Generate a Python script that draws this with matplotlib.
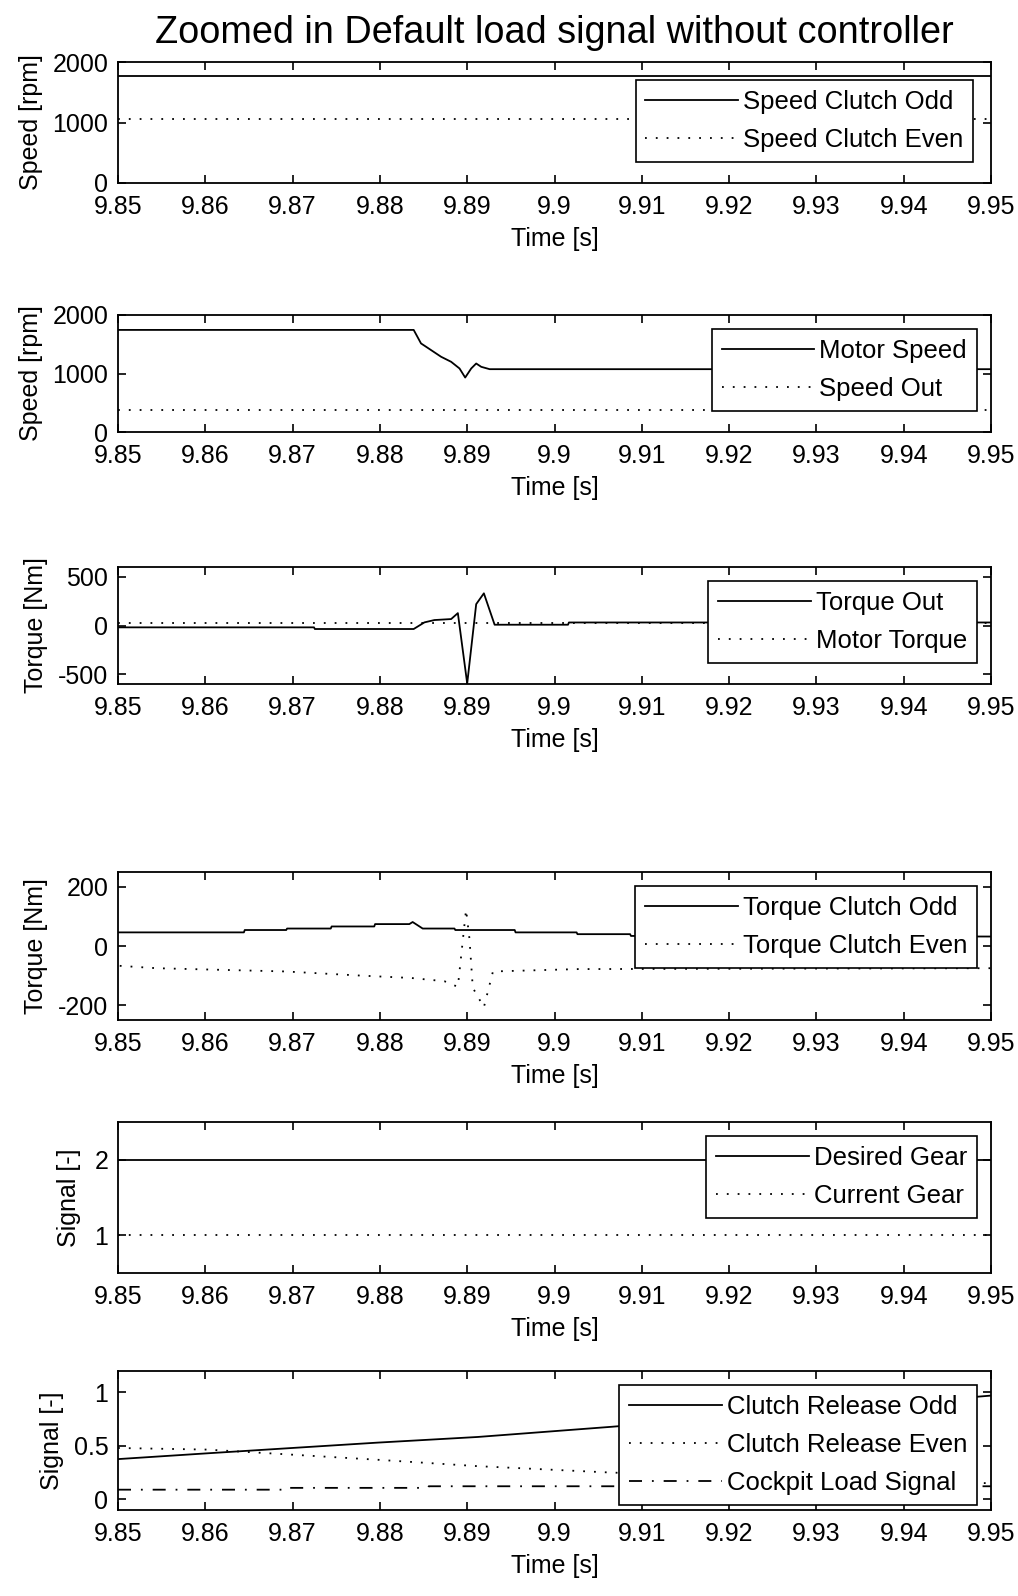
import matplotlib.pyplot as plt
import numpy as np

plt.rcParams['font.family'] = ['Liberation Sans', 'DejaVu Sans']
plt.rcParams['font.size'] = 18
plt.rcParams['axes.unicode_minus'] = False
plt.rcParams['axes.linewidth'] = 1.3
plt.rcParams['xtick.direction'] = 'in'
plt.rcParams['ytick.direction'] = 'in'
plt.rcParams['xtick.top'] = True
plt.rcParams['ytick.right'] = True
plt.rcParams['xtick.major.size'] = 6
plt.rcParams['ytick.major.size'] = 6
plt.rcParams['xtick.major.width'] = 1.2
plt.rcParams['ytick.major.width'] = 1.2

# ---- data ----
time_ticks = [9.85, 9.86, 9.87, 9.88, 9.89, 9.9, 9.91, 9.92, 9.93, 9.94, 9.95]
t_ends = [9.85, 9.95]

speed_odd = [1763, 1763]
speed_even = [1050, 1050]

motor_t = [9.85, 9.88387, 9.88471, 9.88529, 9.88701, 9.88816, 9.88912, 9.88977,
           9.89046, 9.89103, 9.89161, 9.89257, 9.95]
motor_speed = [1745, 1745, 1514, 1457, 1286, 1200, 1086, 931, 1086, 1171, 1114, 1074, 1074]
speed_out = [375, 375]

tq_out_t = [9.85, 9.87245, 9.87255, 9.88387, 9.8851, 9.88625, 9.88816, 9.88893, 9.89,
            9.89103, 9.89191, 9.89314, 9.90155, 9.90165, 9.95]
tq_out = [-19, -19, -36, -36, 32, 56, 66, 127, -595, 219, 330, 8, 8, 31, 31]
motor_torque = [25, 25]

tq_odd_t = [9.85, 9.86442, 9.86452, 9.86927, 9.86937, 9.87437, 9.87447, 9.87935, 9.87945,
            9.88337, 9.88375, 9.8849, 9.88854, 9.88864, 9.89544, 9.89554, 9.90253,
            9.90263, 9.90866, 9.90876, 9.95]
tq_odd = [46, 46, 54, 54, 59, 59, 66, 66, 74, 74, 81, 59, 59, 54, 54, 46, 46, 40, 40, 34, 32]
tq_even_t = [9.8502, 9.8544, 9.86917, 9.87782, 9.88356, 9.88739, 9.88893, 9.88987,
             9.89026, 9.89064, 9.89191, 9.89295, 9.90272, 9.95]
tq_even = [-67, -75, -86, -100, -108, -119, -138, 123, 24, -141, -207, -86, -78, -75]

desired_gear = [2, 2]
current_gear = [1, 1]

rel_t = [9.85, 9.8602, 9.8797, 9.8912, 9.9065, 9.95]
rel_odd = [0.376, 0.43, 0.53, 0.583, 0.678, 0.97]
rel_even = [0.48, 0.465, 0.37, 0.31, 0.25, 0.15]
load_t = [9.85, 9.869, 9.8691, 9.8855, 9.8856, 9.95]
load_sig = [0.09, 0.09, 0.107, 0.107, 0.122, 0.122]

W, H = 1018, 1596
fig = plt.figure(figsize=(W / 100, H / 100), dpi=100)

# pixel boxes (top, bottom) of each panel
boxes = [(62, 183), (315, 432), (567, 684), (872, 1020), (1122, 1273), (1371, 1510)]
left, right = 118, 991

dot = (0, (1, 5))
dashdot = (0, (7.2, 5.5, 1, 5.5))


def make_ax(top, bottom):
    ax = fig.add_axes([left / W, 1 - bottom / H, (right - left) / W, (bottom - top) / H])
    ax.set_xlim(9.85, 9.95)
    ax.set_xticks(time_ticks)
    ax.set_xticklabels(['%g' % v for v in time_ticks])
    ax.set_xlabel('Time [s]', labelpad=6)
    ax.tick_params(axis='x', pad=8.5)
    ax.tick_params(axis='y', pad=7)
    return ax


def legend(ax, handles, inset=0.55):
    ax.legend(handles=handles, loc='upper right', fancybox=False, framealpha=1,
              edgecolor='black', handlelength=3.6, handletextpad=0.2,
              labelspacing=0.55, borderpad=0.38, borderaxespad=inset,
              fontsize=18.5).get_frame().set_linewidth(1.2)


# 1
ax = make_ax(*boxes[0])
a, = ax.plot(t_ends, speed_odd, 'k-', lw=1.3, label='Speed Clutch Odd')
b, = ax.plot(t_ends, speed_even, color='k', ls=dot, lw=1.3, label='Speed Clutch Even')
ax.set_ylim(0, 2000)
ax.set_yticks([0, 1000, 2000])
ax.set_ylabel('Speed [rpm]', labelpad=7)
legend(ax, [a, b], inset=0.7)
ax.set_title('Zoomed in Default load signal without controller', fontsize=27.3, pad=14)

# 2
ax = make_ax(*boxes[1])
a, = ax.plot(motor_t, motor_speed, 'k-', lw=1.3, label='Motor Speed')
b, = ax.plot(t_ends, speed_out, color='k', ls=dot, lw=1.3, label='Speed Out')
ax.set_ylim(0, 2000)
ax.set_yticks([0, 1000, 2000])
ax.set_ylabel('Speed [rpm]', labelpad=7)
legend(ax, [a, b])

# 3
ax = make_ax(*boxes[2])
a, = ax.plot(tq_out_t, tq_out, 'k-', lw=1.3, label='Torque Out')
b, = ax.plot(t_ends, motor_torque, color='k', ls=dot, lw=1.3, label='Motor Torque')
ax.set_ylim(-600, 600)
ax.set_yticks([-500, 0, 500])
ax.set_ylabel('Torque [Nm]', labelpad=7)
legend(ax, [a, b])

# 4
ax = make_ax(*boxes[3])
a, = ax.plot(tq_odd_t, tq_odd, 'k-', lw=1.3, label='Torque Clutch Odd')
b, = ax.plot(tq_even_t, tq_even, color='k', ls=dot, lw=1.3, label='Torque Clutch Even')
ax.set_ylim(-250, 250)
ax.set_yticks([-200, 0, 200])
ax.set_ylabel('Torque [Nm]', labelpad=7)
legend(ax, [a, b])

# 5
ax = make_ax(*boxes[4])
a, = ax.plot(t_ends, desired_gear, 'k-', lw=1.3, label='Desired Gear')
b, = ax.plot(t_ends, current_gear, color='k', ls=dot, lw=1.3, label='Current Gear')
ax.set_ylim(0.5, 2.5)
ax.set_yticks([1, 2])
ax.set_ylabel('Signal [-]', labelpad=10)
legend(ax, [a, b])

# 6
ax = make_ax(*boxes[5])
a, = ax.plot(rel_t, rel_odd, 'k-', lw=1.3, label='Clutch Release Odd')
b, = ax.plot(rel_t, rel_even, color='k', ls=dot, lw=1.3, label='Clutch Release Even')
c, = ax.plot(load_t, load_sig, color='k', ls=dashdot, lw=1.3, label='Cockpit Load Signal')
ax.set_ylim(-0.1, 1.2)
ax.set_yticks([0, 0.5, 1])
ax.set_yticklabels(['0', '0.5', '1'])
ax.set_ylabel('Signal [-]', labelpad=7)
legend(ax, [a, b, c])

fig.savefig('out.png', dpi=100)
